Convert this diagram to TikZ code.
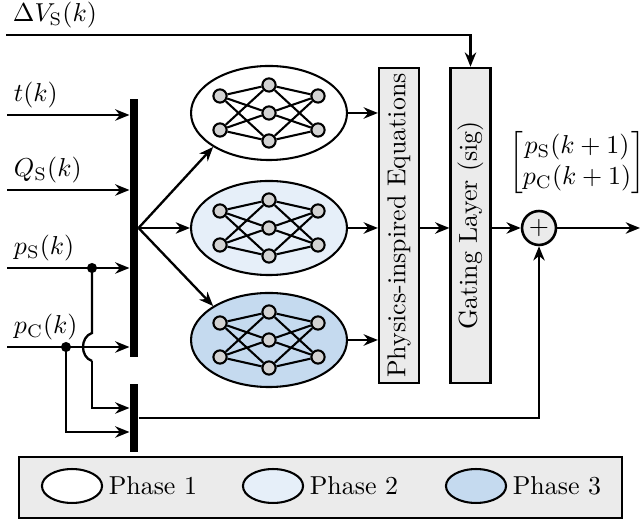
\documentclass[tikz,border=0pt]{standalone}
\usepackage{amsmath}
\usetikzlibrary{arrows.meta,shapes.geometric,calc}
\definecolor{boxgray}{RGB}{235,235,235}
\definecolor{neurongray}{RGB}{210,210,210}
\definecolor{phasetwo}{RGB}{230,239,249}
\definecolor{phasethree}{RGB}{197,218,239}
\begin{document}
\begin{tikzpicture}[x=0.386pt,y=-0.386pt,
 conn/.style={line width=0.9pt,-{Stealth[length=5.5pt,width=4.4pt]}},
 wire/.style={line width=0.9pt},
 netwire/.style={line width=0.8pt},
 bar/.style={fill=black,draw=none,minimum width=3.1pt,inner sep=0},
 blockbox/.style={draw,line width=1pt,fill=boxgray,rotate=90,minimum width=121.6pt,minimum height=15.3pt,inner sep=0},
 phase/.style={draw,line width=0.8pt,ellipse,minimum width=60.2pt,minimum height=36.3pt,inner sep=0},
 legphase/.style={draw,line width=0.8pt,ellipse,minimum width=23.2pt,minimum height=13.1pt,inner sep=0},
 neuron/.style={circle,draw,line width=0.8pt,fill=neurongray,minimum size=5.1pt,inner sep=0},
 dot/.style={circle,fill=black,minimum size=3.9pt,inner sep=0},
 lab/.style={anchor=south west,inner sep=2.5pt}]
\useasboundingbox (0,0) rectangle (641,523);

% bars
\node[bar,minimum height=99.6pt] (bar1) at (134,228) {};
\node[bar,minimum height=26.2pt] (bar2) at (134,418) {};

% phase ellipses
\node[phase,fill=white] (e1) at (269,113) {};
\node[phase,fill=phasetwo] (e2) at (269,228) {};
\node[phase,fill=phasethree] (e3) at (269,340) {};

% neural nets
\foreach \e in {1,2,3}{
  \coordinate (c\e) at (e\e.center);
  \node[neuron] (n\e-a1) at ($(c\e)+(-49,-17)$) {};
  \node[neuron] (n\e-a2) at ($(c\e)+(-49,17)$) {};
  \node[neuron] (n\e-h1) at ($(c\e)+(0,-28)$) {};
  \node[neuron] (n\e-h2) at ($(c\e)+(0,0)$) {};
  \node[neuron] (n\e-h3) at ($(c\e)+(0,28)$) {};
  \node[neuron] (n\e-b1) at ($(c\e)+(49,-17)$) {};
  \node[neuron] (n\e-b2) at ($(c\e)+(49,17)$) {};
  \foreach \i in {1,2}{
    \foreach \h in {1,2,3}{
      \draw[netwire] (n\e-a\i) -- (n\e-h\h);
      \draw[netwire] (n\e-h\h) -- (n\e-b\i);
    }
  }
}

% blocks
\node[blockbox] (phys) at (399,225.5) {Physics-inspired Equations};
\node[blockbox] (gate) at (470.5,225.5) {Gating Layer (sig)};
\node[circle,draw,line width=1pt,fill=boxgray,minimum size=13.1pt,inner sep=0] (plus) at (539,228) {$+$};
\node (out) at (577,163) {$\begin{bmatrix}p_\mathrm{S}(k+1)\\p_\mathrm{C}(k+1)\end{bmatrix}$};

% inputs
\coordinate (sdv) at (6,35);
\coordinate (st) at (7,115);
\coordinate (sq) at (7,190);
\coordinate (sps) at (7,268);
\coordinate (spc) at (7,347);
\node[lab] (ldv) at (sdv) {$\Delta V_\mathrm{S}(k)$};
\node[lab] (lt) at (st) {$t(k)$};
\node[lab] (lq) at (sq) {$Q_\mathrm{S}(k)$};
\node[lab] (lps) at (sps) {$p_\mathrm{S}(k)$};
\node[lab] (lpc) at (spc) {$p_\mathrm{C}(k)$};

\draw[conn] (sdv) -- (sdv -| gate.east) -- (gate.east);
\draw[conn] (st) -- (st -| bar1.west);
\draw[conn] (sq) -- (sq -| bar1.west);
\draw[conn] (sps) -- (sps -| bar1.west);
\draw[conn] (spc) -- (spc -| bar1.west);

% branches to bar2
\node[dot] (ds) at (92,268) {};
\node[dot] (dc) at (66,347) {};
\coordinate (hopa) at (92,333);
\coordinate (hopb) at (92,361);
\coordinate (bs) at (92,408);
\coordinate (bc) at (66,432);
\draw[wire] (ds.center) -- (hopa) .. controls (80,337) and (80,357) .. (hopb);
\draw[conn] (hopb) -- (bs) -- (bs -| bar2.west);
\draw[conn] (dc.center) -- (bc) -- (bc -| bar2.west);

% fan out
\draw[conn] (bar1.east) -- (e1.south west);
\draw[conn] (bar1.east) -- (e2.west);
\draw[conn] (bar1.east) -- (e3.north west);

% to blocks
\draw[conn] (e1.east) -- (e1.east -| phys.north);
\draw[conn] (e2.east) -- (e2.east -| phys.north);
\draw[conn] (e3.east) -- (e3.east -| phys.north);
\draw[conn] (phys.south |- plus) -- (gate.north |- plus);
\draw[conn] (gate.south |- plus) -- (plus.west);
\coordinate (outend) at (640,228);
\draw[conn] (plus.east) -- (outend);
\draw[conn] (bar2.east) -- (bar2.east -| plus.south) -- (plus.south);

% legend
\node[draw,line width=1pt,fill=boxgray,minimum width=232.8pt,minimum height=23.5pt,inner sep=0] (leg) at (320.5,487.5) {};
\node[legphase,fill=white] (l1) at (72,486) {};
\node[legphase,fill=phasetwo] (l2) at (273,486) {};
\node[legphase,fill=phasethree] (l3) at (476,486) {};
\node[anchor=west,inner sep=0] (t1) at ([xshift=2pt]l1.east) {Phase 1};
\node[anchor=west,inner sep=0] (t2) at ([xshift=2pt]l2.east) {Phase 2};
\node[anchor=west,inner sep=0] (t3) at ([xshift=2pt]l3.east) {Phase 3};
\end{tikzpicture}
\end{document}
